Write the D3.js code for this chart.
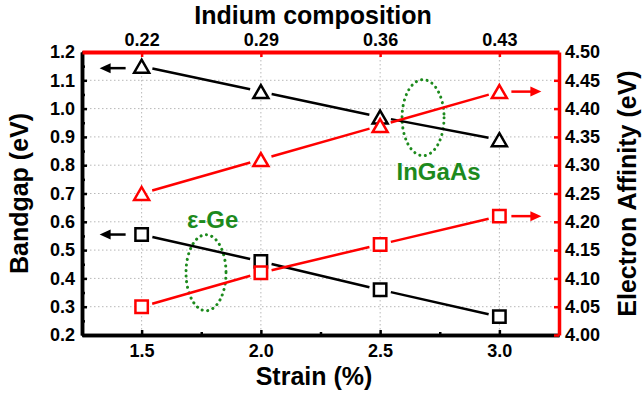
<!DOCTYPE html>
<html>
<head>
<meta charset="utf-8">
<script src="https://cdn.jsdelivr.net/npm/d3@7"></script>
<style>
body { margin: 0; background: #fff; }
text { font-family: "Liberation Sans", Arial, sans-serif; font-weight: bold; }
</style>
</head>
<body>
<div id="chart"></div>
<script>
// data
const strain = [1.5, 2.0, 2.5, 3.0];
const indium = ["0.22", "0.29", "0.36", "0.43"];
const gapInGaAs = [1.15, 1.06, 0.97, 0.89];
const gapGe = [0.555, 0.46, 0.36, 0.265];
const eaInGaAs = [4.25, 4.31, 4.37, 4.43];
const eaGe = [4.05, 4.11, 4.16, 4.21];

const leftTicks = [0.2, 0.3, 0.4, 0.5, 0.6, 0.7, 0.8, 0.9, 1.0, 1.1, 1.2];
const leftMinor = [0.25, 0.35, 0.45, 0.55, 0.65, 0.75, 0.85, 0.95, 1.05, 1.15];
const rightTicks = [4.00, 4.05, 4.10, 4.15, 4.20, 4.25, 4.30, 4.35, 4.40, 4.45, 4.50];
const bottomMinor = [1.75, 2.25, 2.75];

const margin = { top: 52, right: 83, bottom: 61, left: 82 };
const W = 642, H = 396;
const width = W - margin.left - margin.right;
const height = H - margin.top - margin.bottom;
const green = "#1d8a1d";
const red = "#ff0000";

const svg = d3.select("#chart")
  .append("svg")
  .attr("width", W)
  .attr("height", H);

const g = svg.append("g")
  .attr("transform", `translate(${margin.left},${margin.top})`);

const x = d3.scaleLinear().domain([1.25, 3.25]).range([0, width]);
const y = d3.scaleLinear().domain([0.2, 1.2]).range([height, 0]);
const y2 = d3.scaleLinear().domain([4.0, 4.5]).range([height, 0]);

// grid
g.selectAll(".vgrid")
  .data(strain)
  .enter()
  .append("line")
  .attr("x1", d => x(d)).attr("x2", d => x(d))
  .attr("y1", 0).attr("y2", height)
  .attr("stroke", "#b8b8b8").attr("stroke-width", 1)
  .attr("stroke-dasharray", "1.5,2.5");

g.selectAll(".hgrid")
  .data(leftTicks.slice(1, -1))
  .enter()
  .append("line")
  .attr("x1", 0).attr("x2", width)
  .attr("y1", d => y(d)).attr("y2", d => y(d))
  .attr("stroke", "#b8b8b8").attr("stroke-width", 1)
  .attr("stroke-dasharray", "1.5,2.5");

// annotation ellipses
g.append("ellipse")
  .attr("cx", x(2.68)).attr("cy", y(0.968))
  .attr("rx", 21).attr("ry", 38)
  .attr("fill", "none").attr("stroke", green).attr("stroke-width", 3)
  .attr("stroke-linecap", "round").attr("stroke-dasharray", "0.1,5.5");

g.append("ellipse")
  .attr("cx", x(1.77)).attr("cy", y(0.42))
  .attr("rx", 20).attr("ry", 38)
  .attr("fill", "none").attr("stroke", green).attr("stroke-width", 3)
  .attr("stroke-linecap", "round").attr("stroke-dasharray", "0.1,5.5");

g.append("text")
  .attr("x", x(2.745)).attr("y", 128)
  .attr("text-anchor", "middle")
  .attr("fill", green).attr("font-size", 24)
  .text("InGaAs");

g.append("text")
  .attr("x", x(1.69)).attr("y", 176)
  .attr("fill", green).attr("font-size", 24)
  .text("ε-Ge");

// series
const series = [
  { vals: gapInGaAs, sc: y, color: "#000", shape: "tri" },
  { vals: gapGe, sc: y, color: "#000", shape: "sq" },
  { vals: eaInGaAs, sc: y2, color: red, shape: "tri" },
  { vals: eaGe, sc: y2, color: red, shape: "sq" }
];

const gap = 11; // line stops short of the symbols
series.forEach(s => {
  const pts = s.vals.map((d, i) => [x(strain[i]), s.sc(d)]);
  const segs = d3.pairs(pts).map(([a, b]) => {
    const dx = b[0] - a[0], dy = b[1] - a[1];
    const len = Math.hypot(dx, dy);
    const ux = dx / len, uy = dy / len;
    return [[a[0] + ux * gap, a[1] + uy * gap], [b[0] - ux * gap, b[1] - uy * gap]];
  });

  g.selectAll(null)
    .data(segs)
    .enter()
    .append("path")
    .attr("fill", "none")
    .attr("stroke", s.color)
    .attr("stroke-width", 2.5)
    .attr("d", d3.line());

  g.selectAll(null)
    .data(pts)
    .enter()
    .append("path")
    .attr("d", ([cx, cy]) => {
      if (s.shape == "tri") {
        return `M${cx},${cy - 6.5}L${cx + 7.5},${cy + 6.5}L${cx - 7.5},${cy + 6.5}Z`;
      }
      return `M${cx - 6.2},${cy - 6.2}h12.4v12.4h-12.4Z`;
    })
    .attr("fill", "#fff")
    .attr("stroke", s.color)
    .attr("stroke-width", 2.5)
    .attr("stroke-linejoin", "miter");
});

// arrows pointing at the matching axis
function arrow(x1, x2, yy, color) {
  const dir = x2 > x1 ? 1 : -1;
  g.append("line")
    .attr("x1", x1).attr("x2", x2 - dir * 9)
    .attr("y1", yy).attr("y2", yy)
    .attr("stroke", color).attr("stroke-width", 2.5);
  g.append("path")
    .attr("d", `M${x2},${yy}L${x2 - dir * 11},${yy - 5}L${x2 - dir * 11},${yy + 5}Z`)
    .attr("fill", color);
}
arrow(x(1.5) - 16, x(1.5) - 42, y(gapInGaAs[0]) + 2, "#000");
arrow(x(1.5) - 16, x(1.5) - 42, y(gapGe[0]), "#000");
arrow(x(3.0) + 12, x(3.0) + 42, y2(eaInGaAs[3]), red);
arrow(x(3.0) + 12, x(3.0) + 42, y2(eaGe[3]), red);

// axes
function styleAxis(sel, color, lw, fs) {
  sel.select(".domain").attr("stroke", color).attr("stroke-width", lw);
  sel.selectAll(".tick line").attr("stroke", color).attr("stroke-width", 2.5);
  sel.selectAll(".tick text").attr("fill", "#000").attr("font-size", fs)
    .attr("font-family", '"Liberation Sans", Arial, sans-serif').attr("font-weight", "bold");
}

g.append("g")
  .attr("transform", `translate(0,${height})`)
  .call(d3.axisBottom(x).tickValues(bottomMinor).tickFormat("").tickSizeInner(-3).tickSizeOuter(0))
  .call(s => styleAxis(s, "#000", 3.5, 18));

g.append("g")
  .attr("transform", `translate(0,${height})`)
  .call(d3.axisBottom(x).tickValues(strain).tickFormat(d3.format(".1f")).tickSizeInner(-5).tickSizeOuter(0).tickPadding(9))
  .call(s => styleAxis(s, "#000", 3.5, 18));

g.append("g")
  .call(d3.axisLeft(y).tickValues(leftMinor).tickFormat("").tickSizeInner(-3).tickSizeOuter(0))
  .call(s => styleAxis(s, "#000", 3.5, 18));

g.append("g")
  .call(d3.axisLeft(y).tickValues(leftTicks).tickFormat(d3.format(".1f")).tickSizeInner(-5).tickSizeOuter(0).tickPadding(7))
  .call(s => styleAxis(s, "#000", 3.5, 18));

g.append("g")
  .call(d3.axisTop(x).tickValues(strain).tickFormat((d, i) => indium[i]).tickSizeInner(-5).tickSizeOuter(0).tickPadding(6))
  .call(s => styleAxis(s, red, 4, 18));

g.append("g")
  .attr("transform", `translate(${width},0)`)
  .call(d3.axisRight(y2).tickValues(rightTicks).tickFormat(d3.format(".2f")).tickSizeInner(-5).tickSizeOuter(0).tickPadding(6))
  .call(s => styleAxis(s, red, 3.5, 18));

// titles
svg.append("text")
  .attr("x", 313).attr("y", 24)
  .attr("text-anchor", "middle").attr("font-size", 25)
  .text("Indium composition");

svg.append("text")
  .attr("x", 314).attr("y", 385)
  .attr("text-anchor", "middle").attr("font-size", 25)
  .text("Strain (%)");

svg.append("text")
  .attr("transform", `translate(28,${margin.top + height / 2}) rotate(-90)`)
  .attr("text-anchor", "middle").attr("font-size", 25)
  .text("Bandgap (eV)");

svg.append("text")
  .attr("transform", `translate(636,${margin.top + height / 2}) rotate(-90)`)
  .attr("text-anchor", "middle").attr("font-size", 25)
  .text("Electron Affinity (eV)");
</script>
</body>
</html>
